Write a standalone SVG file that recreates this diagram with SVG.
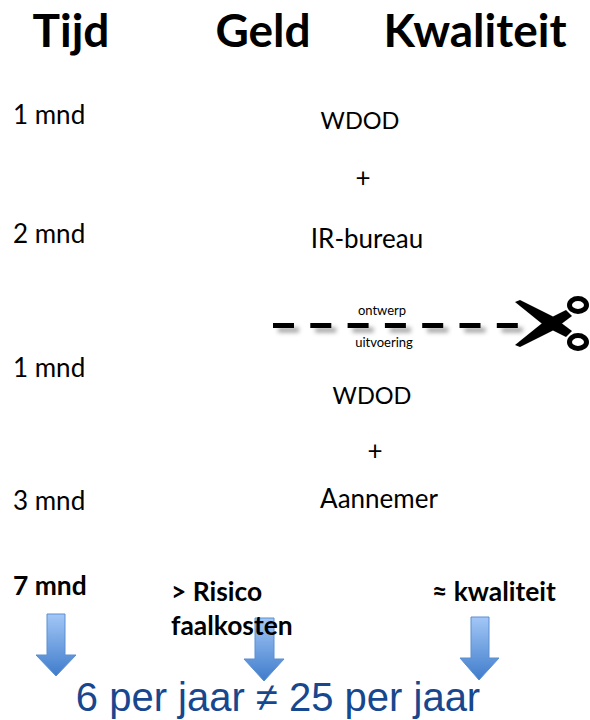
<svg xmlns="http://www.w3.org/2000/svg" width="590" height="720" viewBox="0 0 590 720">
<style>
text{font-family:Lato,"Open Sans","Liberation Sans",sans-serif;fill:#000}
.h{font-size:46px;font-weight:700}
.t{font-size:26px}
.w{font-size:23.5px}
.b{font-size:26.4px;font-weight:700}
.s{font-size:13px}
.m{text-anchor:middle}
.d{stroke:#000;stroke-width:5;stroke-dasharray:21 16.3;fill:none}
.ds{stroke:#666;stroke-width:5;stroke-dasharray:21 16.3;fill:none;opacity:.6;filter:url(#blur)}
.ar{fill:url(#ag);stroke:#5b8fd0;stroke-width:1}
.sc{fill:none;stroke:#000;stroke-width:5}
</style>
<defs>
<linearGradient id="ag" x1="0" y1="0" x2="0" y2="1"><stop offset="0" stop-color="#a3c7f7"/><stop offset="1" stop-color="#3f7ccb"/></linearGradient>
<filter id="blur" filterUnits="userSpaceOnUse" x="260" y="310" width="300" height="40"><feGaussianBlur stdDeviation="2"/></filter>
</defs>
<g id="headers">
<text class="h m" x="71" y="47">Tijd</text>
<text class="h m" x="263" y="47">Geld</text>
<text class="h m" x="475" y="47">Kwaliteit</text>
</g>
<g id="time">
<text class="t" x="13" y="124">1 mnd</text>
<text class="t" x="13" y="243">2 mnd</text>
<text class="t" x="13" y="377">1 mnd</text>
<text class="t" x="13" y="510">3 mnd</text>
<text class="b" x="13" y="595">7 mnd</text>
</g>
<g id="design">
<text class="w m" x="360" y="129">WDOD</text>
<text class="t m" x="363" y="187">+</text>
<text class="t m" x="367" y="248">IR-bureau</text>
</g>
<g id="cut">
<path class="ds" d="M278 330H537"/>
<path class="d" d="M273 325.5H518"/>
<text class="s m" x="382" y="315">ontwerp</text>
<text class="s m" x="384" y="347">uitvoering</text>
<g id="scissors" fill="#000">
<path d="M515 302 L520 300 L552 316 L572 331 L566 337 L546 327 Z"/>
<path d="M515 345 L520 347 L552 331 L572 316 L566 310 L546 320 Z"/>
<ellipse class="sc" cx="578" cy="305" rx="8.5" ry="6.5"/>
<ellipse class="sc" cx="578" cy="342" rx="8.5" ry="6.5"/>
</g>
</g>
<g id="build">
<text class="w m" x="372" y="404">WDOD</text>
<text class="t m" x="375" y="460">+</text>
<text class="t m" x="379" y="508">Aannemer</text>
</g>
<g id="arrows">
<path class="ar" d="M47 614H65V655H76L56 676L36 655H47Z"/>
<path class="ar" d="M255 618H274V659H284L264 681L244 659H255Z"/>
<path class="ar" d="M471 617H489V658H499L479 680L460 658H471Z"/>
</g>
<g id="results">
<text class="b" x="171" y="601">&gt; Risico</text>
<text class="b" x="171" y="635">faalkosten</text>
<text class="b" x="432" y="601">≈ kwaliteit</text>
</g>
<text x="278" y="711" class="m" style="font-family:'Liberation Sans',Arial,sans-serif;font-size:40px;fill:#17478e">6 per jaar ≠ 25 per jaar</text>
</svg>
